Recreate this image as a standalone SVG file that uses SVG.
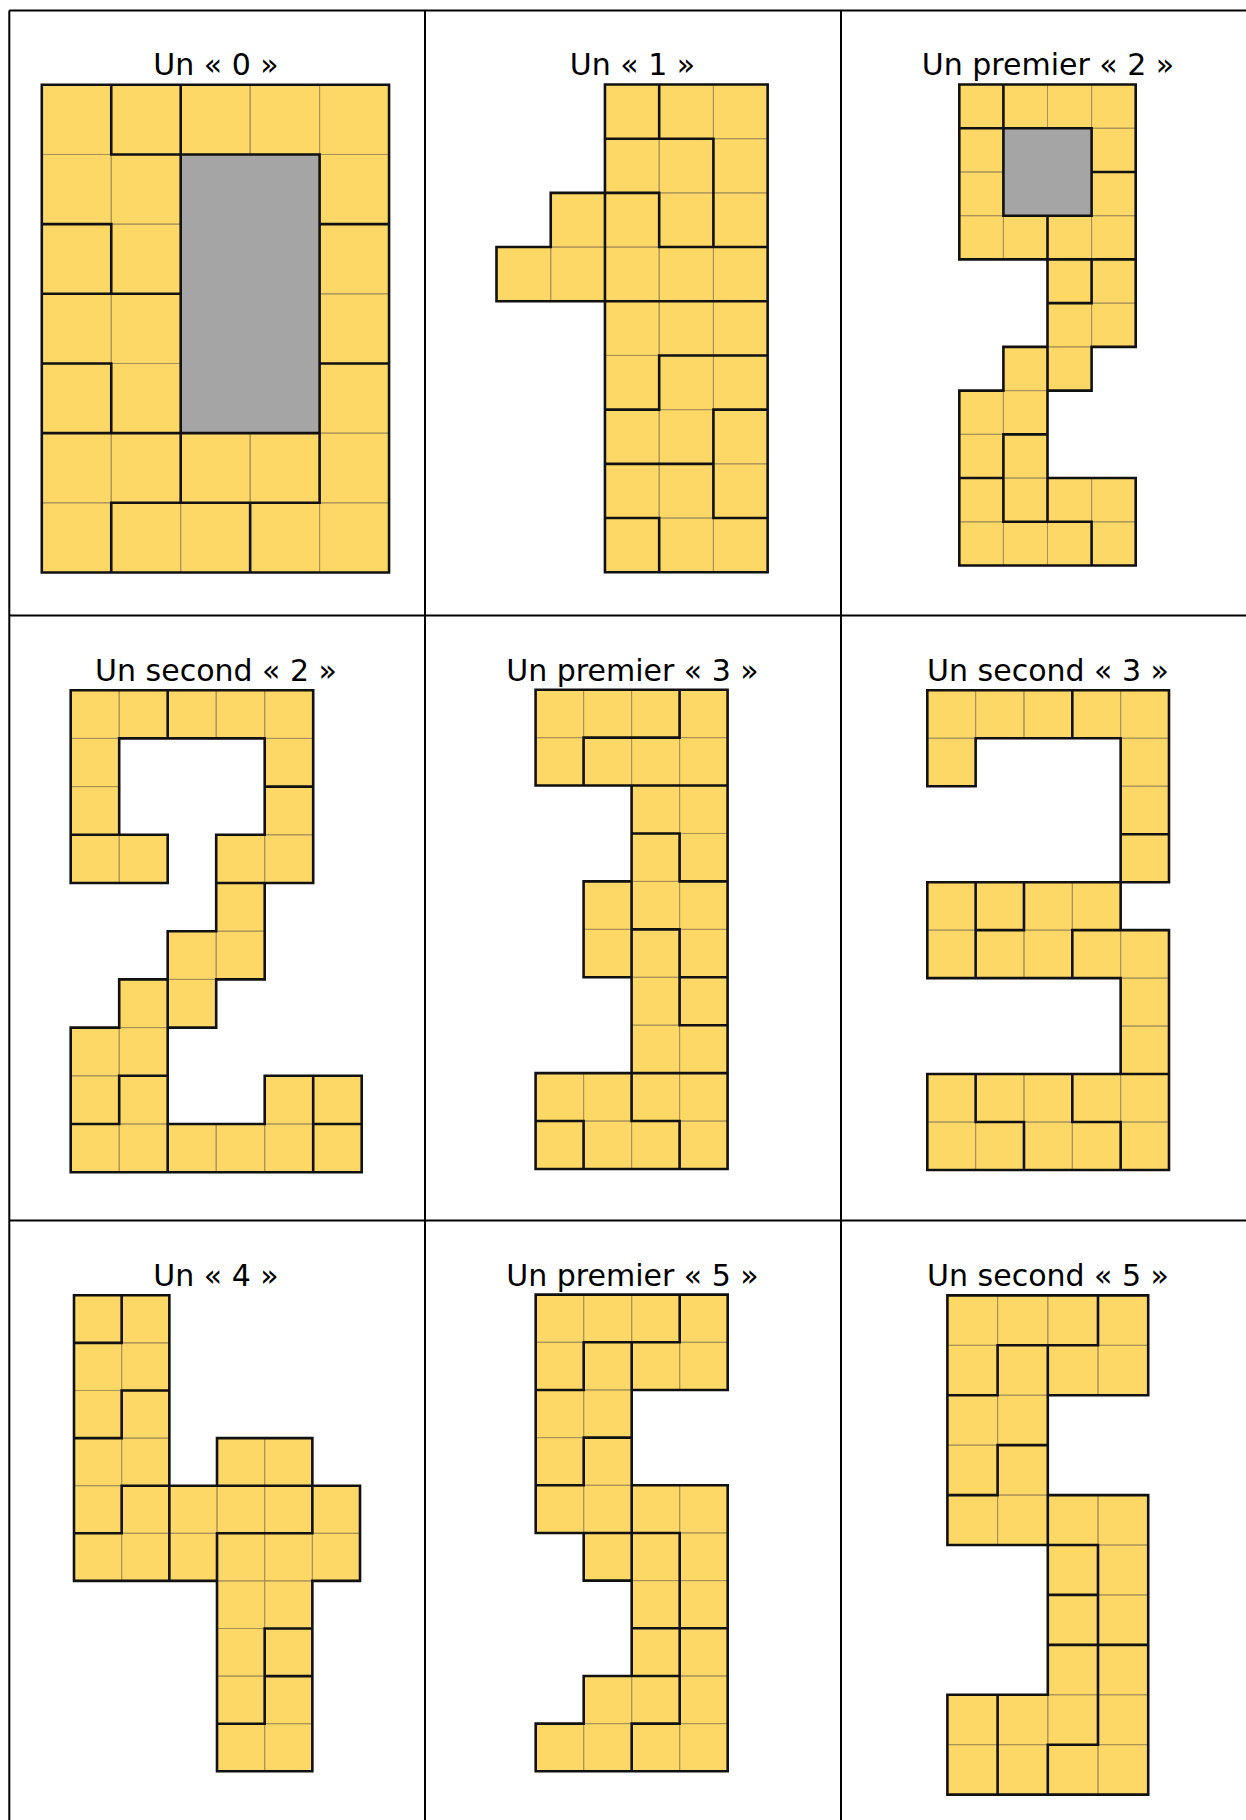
<svg xmlns="http://www.w3.org/2000/svg" width="1246" height="1820" viewBox="0 0 1246 1820">
<style>
.cell{fill:#FDD866;stroke:#A8925A;stroke-width:1}
.gray{fill:#A5A5A5}
.thick{fill:none;stroke:#111;stroke-width:2.6;stroke-linecap:square;stroke-linejoin:miter}
.lbl{font-family:"DejaVu Sans",Verdana,sans-serif;font-size:30px;text-anchor:middle;fill:#000}
.tbl{stroke:#000;stroke-width:2;fill:none}
</style>
<rect width="1246" height="1820" fill="#fff"/>
<g id="table">
<path class="tbl" d="M9.3 10.5V1820M425 10.5V1820M841 10.5V1820M9.3 10.5H1246M9.3 615.5H1246M9.3 1220.5H1246"/>
</g>

<g id="fig0">
<text class="lbl" x="216" y="75">Un « 0 »</text>
<g transform="translate(41.8,84.8) scale(69.45,69.67)">
<path class="cell" vector-effect="non-scaling-stroke" d="M0 0h1v1h-1zM1 0h1v1h-1zM2 0h1v1h-1zM3 0h1v1h-1zM4 0h1v1h-1zM0 1h1v1h-1zM1 1h1v1h-1zM4 1h1v1h-1zM0 2h1v1h-1zM1 2h1v1h-1zM4 2h1v1h-1zM0 3h1v1h-1zM1 3h1v1h-1zM4 3h1v1h-1zM0 4h1v1h-1zM1 4h1v1h-1zM4 4h1v1h-1zM0 5h1v1h-1zM1 5h1v1h-1zM2 5h1v1h-1zM3 5h1v1h-1zM4 5h1v1h-1zM0 6h1v1h-1zM1 6h1v1h-1zM2 6h1v1h-1zM3 6h1v1h-1zM4 6h1v1h-1z"/>
<rect class="gray" x="2" y="1" width="2" height="4"/>
<path class="thick" vector-effect="non-scaling-stroke" d="M0 0H5V7H0ZM2 1H4V5H2ZM1 0V1H2M2 0V1M4 2H5M0 2H1V3M0 3H2M0 4H1V5M4 4H5M0 5H4M4 5V6M2 5V6M1 6H4M1 6V7M3 6V7"/>
</g>
</g>

<g id="fig1">
<text class="lbl" x="632.5" y="75">Un « 1 »</text>
<g transform="translate(496.5,84.5) scale(54.23,54.19)">
<path class="cell" vector-effect="non-scaling-stroke" d="M2 0h1v1h-1zM3 0h1v1h-1zM4 0h1v1h-1zM2 1h1v1h-1zM3 1h1v1h-1zM4 1h1v1h-1zM1 2h1v1h-1zM2 2h1v1h-1zM3 2h1v1h-1zM4 2h1v1h-1zM0 3h1v1h-1zM1 3h1v1h-1zM2 3h1v1h-1zM3 3h1v1h-1zM4 3h1v1h-1zM2 4h1v1h-1zM3 4h1v1h-1zM4 4h1v1h-1zM2 5h1v1h-1zM3 5h1v1h-1zM4 5h1v1h-1zM2 6h1v1h-1zM3 6h1v1h-1zM4 6h1v1h-1zM2 7h1v1h-1zM3 7h1v1h-1zM4 7h1v1h-1zM2 8h1v1h-1zM3 8h1v1h-1zM4 8h1v1h-1z"/>
<path class="thick" vector-effect="non-scaling-stroke" d="M2 0H5V9H2V4H0V3H1V2H2ZM3 0V1M2 1H4V3M2 2H3V3M3 3H5M2 2V4M2 4H5M3 5H5M3 5V6M2 6H3M4 6H5M4 6V8M2 7H4M2 8H3M4 8H5M3 8V9"/>
</g>
</g>

<g id="fig2">
<text class="lbl" x="1048" y="75">Un premier « 2 »</text>
<g transform="translate(959.3,84.5) scale(44.1,43.73)">
<path class="cell" vector-effect="non-scaling-stroke" d="M0 0h1v1h-1zM1 0h1v1h-1zM2 0h1v1h-1zM3 0h1v1h-1zM0 1h1v1h-1zM3 1h1v1h-1zM0 2h1v1h-1zM3 2h1v1h-1zM0 3h1v1h-1zM1 3h1v1h-1zM2 3h1v1h-1zM3 3h1v1h-1zM2 4h1v1h-1zM3 4h1v1h-1zM2 5h1v1h-1zM3 5h1v1h-1zM1 6h1v1h-1zM2 6h1v1h-1zM0 7h1v1h-1zM1 7h1v1h-1zM0 8h1v1h-1zM1 8h1v1h-1zM0 9h1v1h-1zM1 9h1v1h-1zM2 9h1v1h-1zM3 9h1v1h-1zM0 10h1v1h-1zM1 10h1v1h-1zM2 10h1v1h-1zM3 10h1v1h-1z"/>
<rect class="gray" x="1" y="1" width="2" height="2"/>
<path class="thick" vector-effect="non-scaling-stroke" d="M0 0H4V6H3V7H2V9H4V11H0V7H1V6H2V4H0ZM1 1H3V3H1ZM1 0V1H0M3 2H4M2 3V4M2 4H4M3 4V5H2M2 6V7M1 8H2M1 8V10M0 9H1M1 10H3V11M2 9V10"/>
</g>
</g>

<g id="fig3">
<text class="lbl" x="216" y="680.6">Un second « 2 »</text>
<g transform="translate(70.7,690.2) scale(48.5,48.2)">
<path class="cell" vector-effect="non-scaling-stroke" d="M0 0h1v1h-1zM1 0h1v1h-1zM2 0h1v1h-1zM3 0h1v1h-1zM4 0h1v1h-1zM0 1h1v1h-1zM4 1h1v1h-1zM0 2h1v1h-1zM4 2h1v1h-1zM0 3h1v1h-1zM1 3h1v1h-1zM3 3h1v1h-1zM4 3h1v1h-1zM3 4h1v1h-1zM2 5h1v1h-1zM3 5h1v1h-1zM1 6h1v1h-1zM2 6h1v1h-1zM0 7h1v1h-1zM1 7h1v1h-1zM0 8h1v1h-1zM1 8h1v1h-1zM4 8h1v1h-1zM5 8h1v1h-1zM0 9h1v1h-1zM1 9h1v1h-1zM2 9h1v1h-1zM3 9h1v1h-1zM4 9h1v1h-1zM5 9h1v1h-1z"/>
<path class="thick" vector-effect="non-scaling-stroke" d="M0 0H5V4H4V6H3V7H2V9H4V8H6V10H0V7H1V6H2V5H3V3H4V1H1V3H2V4H0ZM2 0V1M4 2H5M0 3H1M3 4H4M2 6V7M1 8H2M1 8V9H0M2 9V10M5 8V10M5 9H6"/>
</g>
</g>

<g id="fig4">
<text class="lbl" x="632.5" y="680.6">Un premier « 3 »</text>
<g transform="translate(535.6,689.7) scale(48.0,47.93)">
<path class="cell" vector-effect="non-scaling-stroke" d="M0 0h1v1h-1zM1 0h1v1h-1zM2 0h1v1h-1zM3 0h1v1h-1zM0 1h1v1h-1zM1 1h1v1h-1zM2 1h1v1h-1zM3 1h1v1h-1zM2 2h1v1h-1zM3 2h1v1h-1zM2 3h1v1h-1zM3 3h1v1h-1zM1 4h1v1h-1zM2 4h1v1h-1zM3 4h1v1h-1zM1 5h1v1h-1zM2 5h1v1h-1zM3 5h1v1h-1zM2 6h1v1h-1zM3 6h1v1h-1zM2 7h1v1h-1zM3 7h1v1h-1zM0 8h1v1h-1zM1 8h1v1h-1zM2 8h1v1h-1zM3 8h1v1h-1zM0 9h1v1h-1zM1 9h1v1h-1zM2 9h1v1h-1zM3 9h1v1h-1z"/>
<path class="thick" vector-effect="non-scaling-stroke" d="M0 0H4V10H0V8H2V6H1V4H2V2H0ZM3 0V1M1 1H3M1 1V2M2 2H4M2 3H3V4H4M2 4V6M2 5H3V7M3 6H4M3 7H4M2 8H4M2 8V9M0 9H1V10M2 9H3V10"/>
</g>
</g>

<g id="fig5">
<text class="lbl" x="1048" y="680.6">Un second « 3 »</text>
<g transform="translate(927.3,690.3) scale(48.34,47.97)">
<path class="cell" vector-effect="non-scaling-stroke" d="M0 0h1v1h-1zM1 0h1v1h-1zM2 0h1v1h-1zM3 0h1v1h-1zM4 0h1v1h-1zM0 1h1v1h-1zM4 1h1v1h-1zM4 2h1v1h-1zM4 3h1v1h-1zM0 4h1v1h-1zM1 4h1v1h-1zM2 4h1v1h-1zM3 4h1v1h-1zM0 5h1v1h-1zM1 5h1v1h-1zM2 5h1v1h-1zM3 5h1v1h-1zM4 5h1v1h-1zM4 6h1v1h-1zM4 7h1v1h-1zM0 8h1v1h-1zM1 8h1v1h-1zM2 8h1v1h-1zM3 8h1v1h-1zM4 8h1v1h-1zM0 9h1v1h-1zM1 9h1v1h-1zM2 9h1v1h-1zM3 9h1v1h-1zM4 9h1v1h-1z"/>
<path class="thick" vector-effect="non-scaling-stroke" d="M0 0H5V4H4V5H5V10H0V8H4V6H0V4H4V1H1V2H0ZM3 0V1M4 3H5M1 4V6M1 5H2V4M3 5H4M3 5V6M4 8H5M1 8V9H2V10M3 8V9H4V10"/>
</g>
</g>

<g id="fig6">
<text class="lbl" x="216" y="1285.6">Un « 4 »</text>
<g transform="translate(74,1295.3) scale(47.67,47.6)">
<path class="cell" vector-effect="non-scaling-stroke" d="M0 0h1v1h-1zM1 0h1v1h-1zM0 1h1v1h-1zM1 1h1v1h-1zM0 2h1v1h-1zM1 2h1v1h-1zM0 3h1v1h-1zM1 3h1v1h-1zM3 3h1v1h-1zM4 3h1v1h-1zM0 4h1v1h-1zM1 4h1v1h-1zM2 4h1v1h-1zM3 4h1v1h-1zM4 4h1v1h-1zM5 4h1v1h-1zM0 5h1v1h-1zM1 5h1v1h-1zM2 5h1v1h-1zM3 5h1v1h-1zM4 5h1v1h-1zM5 5h1v1h-1zM3 6h1v1h-1zM4 6h1v1h-1zM3 7h1v1h-1zM4 7h1v1h-1zM3 8h1v1h-1zM4 8h1v1h-1zM3 9h1v1h-1zM4 9h1v1h-1z"/>
<path class="thick" vector-effect="non-scaling-stroke" d="M0 0H2V4H3V3H5V4H6V6H5V10H3V6H0ZM1 0V1H0M2 2H1V3H0M2 4H1V5H0M2 4V6M3 4H5V5H3V6M5 7H4V9H3M4 8H5"/>
</g>
</g>

<g id="fig7">
<text class="lbl" x="632.5" y="1285.6">Un premier « 5 »</text>
<g transform="translate(535.7,1294.6) scale(48.0,47.67)">
<path class="cell" vector-effect="non-scaling-stroke" d="M0 0h1v1h-1zM1 0h1v1h-1zM2 0h1v1h-1zM3 0h1v1h-1zM0 1h1v1h-1zM1 1h1v1h-1zM2 1h1v1h-1zM3 1h1v1h-1zM0 2h1v1h-1zM1 2h1v1h-1zM0 3h1v1h-1zM1 3h1v1h-1zM0 4h1v1h-1zM1 4h1v1h-1zM2 4h1v1h-1zM3 4h1v1h-1zM1 5h1v1h-1zM2 5h1v1h-1zM3 5h1v1h-1zM2 6h1v1h-1zM3 6h1v1h-1zM2 7h1v1h-1zM3 7h1v1h-1zM1 8h1v1h-1zM2 8h1v1h-1zM3 8h1v1h-1zM0 9h1v1h-1zM1 9h1v1h-1zM2 9h1v1h-1zM3 9h1v1h-1z"/>
<path class="thick" vector-effect="non-scaling-stroke" d="M0 0H4V2H2V4H4V10H0V9H1V8H2V6H1V5H0ZM3 0V1H1V2M2 1V2M0 2H1M1 3H2M1 3V4H0M2 4V6M1 5H3M3 5V9M2 7H4M2 8H3M2 9H3M2 9V10"/>
</g>
</g>

<g id="fig8">
<text class="lbl" x="1048" y="1285.6">Un second « 5 »</text>
<g transform="translate(947.4,1295.4) scale(50.2,49.92)">
<path class="cell" vector-effect="non-scaling-stroke" d="M0 0h1v1h-1zM1 0h1v1h-1zM2 0h1v1h-1zM3 0h1v1h-1zM0 1h1v1h-1zM1 1h1v1h-1zM2 1h1v1h-1zM3 1h1v1h-1zM0 2h1v1h-1zM1 2h1v1h-1zM0 3h1v1h-1zM1 3h1v1h-1zM0 4h1v1h-1zM1 4h1v1h-1zM2 4h1v1h-1zM3 4h1v1h-1zM2 5h1v1h-1zM3 5h1v1h-1zM2 6h1v1h-1zM3 6h1v1h-1zM2 7h1v1h-1zM3 7h1v1h-1zM0 8h1v1h-1zM1 8h1v1h-1zM2 8h1v1h-1zM3 8h1v1h-1zM0 9h1v1h-1zM1 9h1v1h-1zM2 9h1v1h-1zM3 9h1v1h-1z"/>
<path class="thick" vector-effect="non-scaling-stroke" d="M0 0H4V2H2V4H4V10H0V8H2V5H0ZM3 0V1H1V2M2 1V2M0 2H1M1 3H2M1 3V4H0M2 4V5M2 5H3M3 5V9M2 6H3M2 7H4M1 8V10M2 9H3M2 9V10"/>
</g>
</g>
</svg>
